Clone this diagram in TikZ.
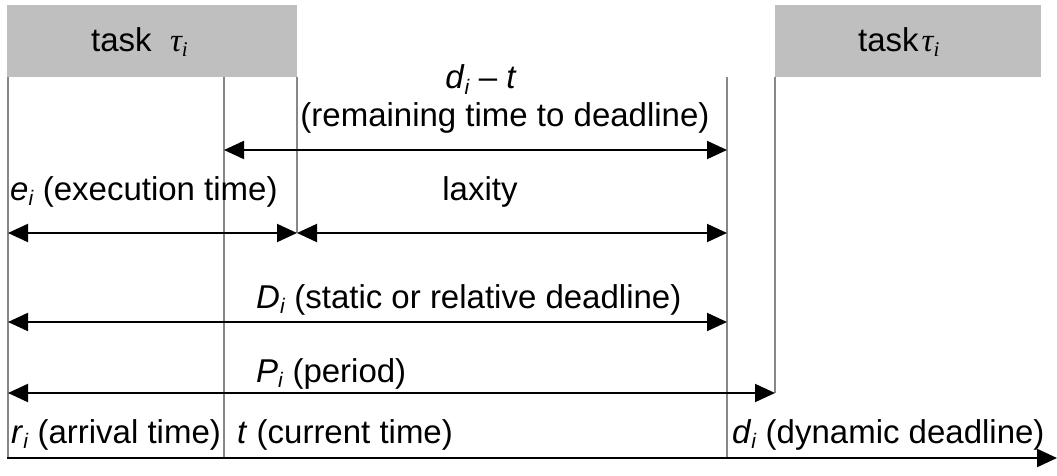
\documentclass[tikz,border=0pt]{standalone}
\usepackage{fontspec}
\setmainfont{Liberation Sans}
\newfontfamily\taufont{Liberation Serif}
\usetikzlibrary{arrows.meta}
\newcommand{\isub}[2]{\textit{#1}\raisebox{-0.3ex}{\fontsize{21}{21}\selectfont\textit{#2}}}
\newcommand{\tausub}{{\taufont\itshape τ\raisebox{-0.3ex}{\fontsize{21}{21}\selectfont i}}}
\begin{document}
\begin{tikzpicture}[x=1pt,y=-1pt,font=\fontsize{33}{36}\selectfont,
  taskbox/.style={fill=black!25,draw=none,inner sep=0pt,anchor=north west},
  tickline/.style={draw=black!47,line width=2pt},
  dim/.style={draw=black,line width=2pt,{Triangle[length=20pt,width=18pt]}-{Triangle[length=20pt,width=18pt]}},
  axis/.style={draw=black,line width=2.2pt,-{Triangle[length=20pt,width=18pt]}},
  lbl/.style={anchor=base west,inner sep=0pt}]
\useasboundingbox (0,0) rectangle (1057,476);
% task boxes
\node[taskbox,minimum width=290pt,minimum height=72pt] (box1) at (7,5) {};
\node[taskbox,minimum width=266pt,minimum height=72pt] (box2) at (775,5) {};
\node[lbl] (task1) at (91,52) {task\ \ \tausub};
\node[lbl] (task2) at (858,52) {task\kern3pt\tausub};
% vertical time marks
\coordinate (r0) at (8,77);   \coordinate (r1) at (8,458);
\coordinate (t0) at (224,77); \coordinate (t1) at (224,458);
\coordinate (e0) at (297,77); \coordinate (e1) at (297,233);
\coordinate (d0) at (727,77); \coordinate (d1) at (727,458);
\coordinate (p0) at (775,77); \coordinate (p1) at (775,393);
\draw[tickline] (r0) -- (r1);
\draw[tickline] (t0) -- (t1);
\draw[tickline] (e0) -- (e1);
\draw[tickline] (d0) -- (d1);
\draw[tickline] (p0) -- (p1);
% arrow end points
\coordinate (remL) at (224,150); \coordinate (remR) at (727,150);
\coordinate (exL) at (8,233);    \coordinate (exR) at (297,233);
\coordinate (laxR) at (727,233);
\coordinate (DL) at (8,322);     \coordinate (DR) at (727,322);
\coordinate (PL) at (8,393);     \coordinate (PR) at (775,393);
\coordinate (axL) at (7,458);    \coordinate (axR) at (1057,458);
\draw[dim] (remL) -- (remR);
\draw[dim] (exL) -- (exR);
\draw[dim] (exR) -- (laxR);
\draw[dim] (DL) -- (DR);
\draw[dim] (PL) -- (PR);
\draw[axis] (axL) -- (axR);
% labels
\node[anchor=base,inner sep=0pt] (rem1) at (481,89) {\isub{d}{i} -- \textit{t}};
\node[anchor=base,inner sep=0pt] (rem2) at (505,127) {(remaining time to deadline)};
\node[lbl] (exec) at (10,200) {\isub{e}{i} (execution time)};
\node[anchor=base,inner sep=0pt] (lax) at (480,200) {laxity};
\node[lbl] (Dl) at (256,308) {\isub{D}{i} (static or relative deadline)};
\node[lbl] (Pl) at (256,382) {\isub{P}{i} (period)};
\node[lbl] (rl) at (11,443) {\isub{r}{i} (arrival time)};
\node[lbl] (tl) at (237,443) {\textit{t} (current time)};
\node[lbl] (dl) at (732,443) {\isub{d}{i} (dynamic deadline)};
\end{tikzpicture}
\end{document}
